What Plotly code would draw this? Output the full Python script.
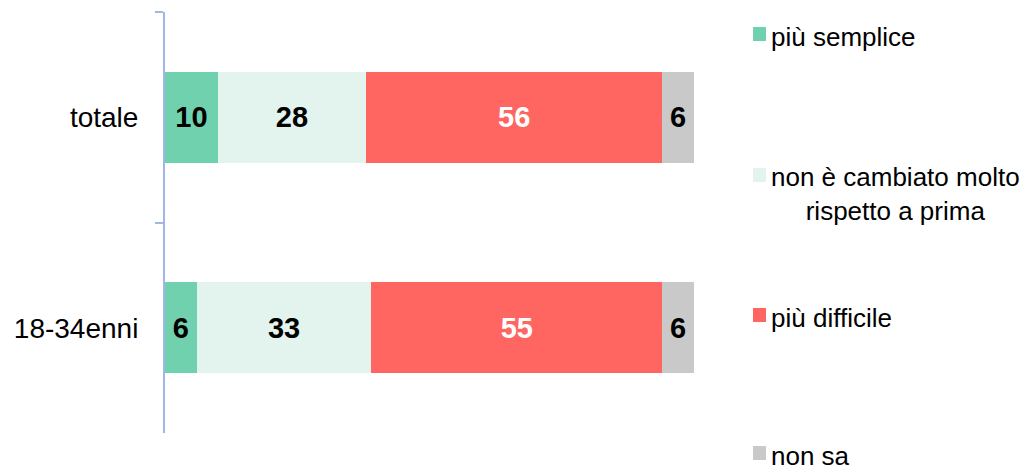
import plotly.graph_objects as go

categories = ["totale", "18-34enni"]
series_names = [
    "più semplice",
    "non è cambiato molto<br>rispetto a prima",
    "più difficile",
    "non sa",
]
piu_semplice = [10, 6]
non_cambiato = [28, 33]
piu_difficile = [56, 55]
non_sa = [6, 6]

series_values = [piu_semplice, non_cambiato, piu_difficile, non_sa]
colors = ["#70d1ae", "#e2f4ed", "#ff6661", "#c9c9c9"]
text_colors = ["black", "black", "white", "black"]

W, H = 1030, 469
L, R, T, B = 165, 336, 12, 36
font_family = "Arial, Liberation Sans, sans-serif"


def px_x(px):
    # pixel -> paper x
    return (px - L) / (W - L - R)


def px_y(py):
    # pixel -> paper y
    return (H - B - py) / (H - T - B)


fig = go.Figure()

for name, vals, col, tcol in zip(series_names, series_values, colors, text_colors):
    fig.add_trace(
        go.Bar(
            y=categories,
            x=vals,
            orientation="h",
            name=name,
            marker=dict(color=col, line=dict(width=0)),
            text=[str(v) for v in vals],
            textposition="inside",
            insidetextanchor="middle",
            textangle=0,
            constraintext="none",
            textfont=dict(family=font_family, size=29, color=tcol, weight="bold"),
            showlegend=False,
            hoverinfo="skip",
        )
    )

# Manual legend so items can sit at the same spread as the original
legend_rows = [34, 175, 315, 453]
for name, col, yc in zip(series_names, colors, legend_rows):
    fig.add_shape(
        type="rect",
        xref="paper", yref="paper",
        x0=px_x(753), x1=px_x(766),
        y0=px_y(yc + 7), y1=px_y(yc - 7),
        fillcolor=col,
        line=dict(width=0),
    )
    two_lines = "<br>" in name
    fig.add_annotation(
        xref="paper", yref="paper",
        x=px_x(770),
        y=px_y(yc + 3 + (16 if two_lines else 0)),
        text=name,
        showarrow=False,
        xanchor="left",
        yanchor="middle",
        align="center",
        borderpad=0,
        font=dict(family=font_family, size=26, color="black"),
    )

fig.update_xaxes(visible=False, range=[0, 100], fixedrange=True)
fig.update_yaxes(
    autorange=False,
    range=[1.5, -0.5],
    tickson="boundaries",
    ticks="outside",
    ticklen=8,
    tickwidth=2,
    tickcolor="#a3b5e3",
    showline=True,
    linecolor="#a3b5e3",
    linewidth=2,
    showgrid=False,
    zeroline=False,
    ticklabelstandoff=19,
    tickfont=dict(family=font_family, size=28, color="black"),
)

fig.update_layout(
    barmode="stack",
    bargap=0.567,
    width=W,
    height=H,
    margin=dict(l=L, r=R, t=T, b=B),
    paper_bgcolor="white",
    plot_bgcolor="white",
    showlegend=False,
)

# drop the default body margin so the figure fills the window
fig.write_html(
    "out.html",
    config={"displayModeBar": False},
    post_script="document.body.style.margin='0';",
)
